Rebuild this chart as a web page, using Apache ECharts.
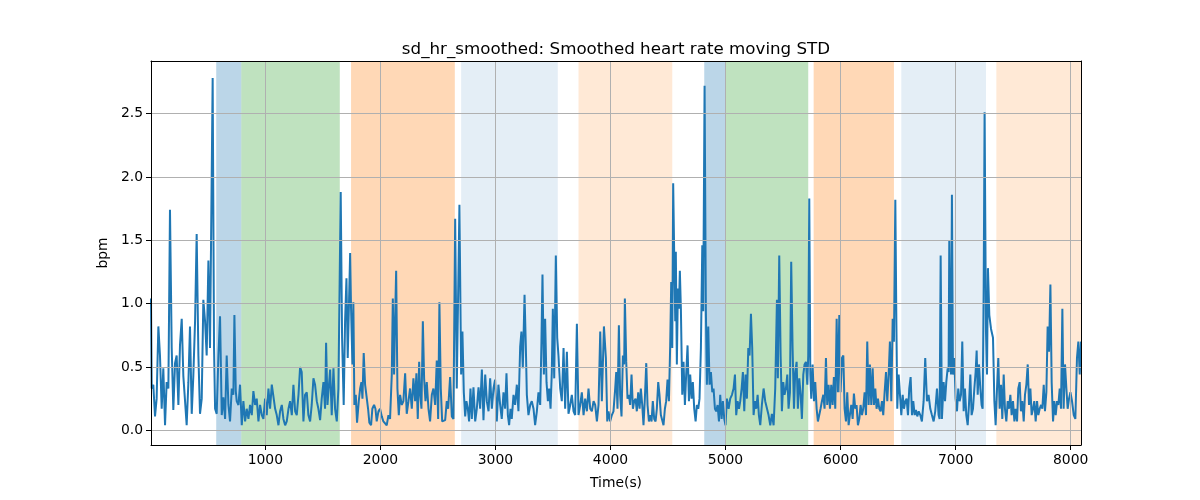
<!DOCTYPE html>
<html>
<head>
<meta charset="utf-8">
<script src="https://cdn.jsdelivr.net/npm/echarts@6/dist/echarts.min.js"></script>
<style>html,body{margin:0;padding:0;background:#fff;}#chart{width:1200px;height:500px;}</style>
</head>
<body>
<div id="chart"></div>
<script>
const titleText = 'sd_hr_smoothed: Smoothed heart rate moving STD';
const xAxisName = 'Time(s)';
const yAxisName = 'bpm';
const xTicks = [1000, 2000, 3000, 4000, 5000, 6000, 7000, 8000];
const yTicks = [0, 0.5, 1.0, 1.5, 2.0, 2.5];
const yRange = [-0.116, 2.915];

// shaded phases: start, end (s), kind
const bandStarts = [573, 791, 1745, 2702, 3722, 4815, 5000, 5766, 6528, 7354];
const bandEnds   = [791, 1647, 2647, 3542, 4537, 5000, 5719, 6464, 7264, 8090];
const bandKinds  = ['A', 'B', 'C', 'D', 'E', 'A', 'B', 'C', 'D', 'E'];

// [time (s), sd (bpm)]
const sdHrSmoothed = [
[6,1.04],[12,0.33],[26,0.36],[41,0.11],[55,0.25],[70,0.82],[84,0.59],[99,0.17],[113,0.49],[128,0.04],
[142,0.38],[157,0.33],[171,1.74],[186,0.65],[200,0.16],[215,0.53],[229,0.59],[244,0.20],[258,0.67],[273,0.88],
[287,0.43],[302,0.23],[316,0.04],[331,0.38],[345,0.82],[360,0.13],[374,0.43],[389,0.86],[403,1.55],[418,0.59],
[432,0.13],[447,0.25],[461,1.03],[476,0.86],[490,0.59],[505,1.34],[519,0.65],[542,2.78],[554,0.65],[563,0.17],
[577,0.13],[592,0.59],[606,0.90],[621,0.12],[635,0.26],[650,0.09],[664,0.59],[679,0.20],[693,0.07],[708,0.33],
[722,0.28],[731,0.91],[743,0.31],[751,0.23],[766,0.20],[780,0.36],[795,0.04],[809,0.23],[824,0.07],[838,0.17],
[853,0.09],[867,0.20],[882,0.12],[896,0.31],[911,0.20],[925,0.25],[940,0.07],[954,0.20],[969,0.12],[983,0.09],
[998,0.25],[1012,0.12],[1027,0.33],[1041,0.17],[1056,0.36],[1070,0.36],[1085,0.17],[1099,0.12],[1114,0.04],[1128,0.15],
[1143,0.20],[1157,0.09],[1172,0.04],[1186,0.07],[1201,0.17],[1215,0.23],[1230,0.12],[1244,0.36],[1259,0.15],[1273,0.12],
[1288,0.28],
[1302,0.50],[1316,0.46],[1331,0.07],[1345,0.28],[1360,0.30],[1374,0.12],[1389,0.07],[1403,0.20],[1418,0.41],[1432,0.36],
[1447,0.23],[1461,0.17],[1476,0.08],[1490,0.25],[1505,0.38],[1519,0.17],[1528,0.69],[1540,0.20],[1548,0.30],[1563,0.48],
[1577,0.12],[1592,0.49],[1606,0.17],[1621,0.07],[1635,0.33],[1655,1.88],[1667,0.73],[1681,0.20],[1693,0.86],[1705,1.20],
[1716,0.57],[1728,1.04],[1737,1.40],[1745,0.96],[1757,0.52],[1765,1.01],[1774,0.20],[1786,0.28],[1797,0.06],[1812,0.23],
[1824,0.33],[1835,0.38],[1844,0.25],[1855,0.61],[1867,0.36],[1881,0.36],[1893,0.17],[1904,0.06],[1919,0.04],[1930,0.17],
[1945,0.20],[1957,0.17],[1968,0.07],[1983,0.15],[1997,0.17],[2012,0.11],[2026,0.07],[2041,0.08],[2055,0.04],[2070,0.12],
[2084,0.09],[2099,0.44],[2108,1.04],[2119,0.44],[2128,0.88],[2137,1.26],[2148,0.33],[2160,0.12],[2171,0.28],[2186,0.20],
[2200,0.23],[2215,0.45],[2229,0.13],[2244,0.23],[2258,0.33],[2273,0.17],[2287,0.41],[2302,0.23],[2313,0.45],[2325,0.09],
[2337,0.54],[2345,0.30],[2357,0.17],[2369,0.86],[2380,0.41],[2392,0.23],[2403,0.38],[2418,0.17],[2432,0.07],[2447,0.28],
[2461,0.33],[2476,0.20],[2490,0.55],[2502,0.09],[2513,1.01],[2525,0.33],[2537,0.07],[2548,0.07],[2563,0.08],[2577,0.23],
[2589,0.17],[2606,0.42],[2621,0.11],[2635,0.09],
[2650,1.67],[2664,0.33],[2687,1.78],[2702,0.44],[2713,0.78],[2725,0.30],[2737,0.11],[2748,0.23],[2760,0.17],[2771,0.07],
[2783,0.33],[2795,0.09],[2809,0.34],[2824,0.07],[2838,0.17],[2853,0.34],[2867,0.17],[2882,0.48],[2896,0.08],[2911,0.44],
[2925,0.23],[2940,0.15],[2954,0.41],[2969,0.17],[2983,0.33],[2997,0.40],[3012,0.07],[3026,0.36],[3041,0.20],[3055,0.09],
[3070,0.30],[3084,0.17],[3096,0.45],[3108,0.12],[3119,0.04],[3131,0.17],[3142,0.09],[3157,0.28],[3171,0.20],[3186,0.36],
[3200,0.15],[3215,0.66],[3226,0.78],[3238,0.49],[3253,1.07],[3264,0.67],[3273,0.28],[3287,0.12],[3302,0.20],[3316,0.23],
[3331,0.17],[3345,0.04],[3360,0.15],[3374,0.30],[3389,0.20],[3400,0.70],[3409,1.23],[3421,0.44],[3432,0.88],[3444,0.38],
[3456,0.23],[3467,0.33],[3479,0.17],[3490,0.46],[3499,0.96],[3511,0.41],[3525,1.38],[3537,0.73],[3548,0.59],[3563,0.33],
[3577,0.23],[3592,0.65],[3606,0.17],[3621,0.62],[3635,0.13],[3650,0.20],[3664,0.28],[3679,0.15],[3693,0.12],[3708,0.84],
[3722,0.12],[3737,0.20],[3751,0.30],[3766,0.12],[3780,0.25],[3795,0.15],[3809,0.33],[3824,0.17],[3838,0.15],[3853,0.23],
[3867,0.20],[3882,0.07],[3896,0.20],[3911,0.78],[3925,0.23],[3943,0.82],[3960,0.57],[3972,0.07],[3983,0.15],
[3997,0.07],[4012,0.12],[4026,0.15],[4041,0.33],[4050,0.46],[4061,0.17],[4073,0.83],[4084,0.28],[4096,0.11],[4108,0.59],
[4119,0.52],[4125,1.04],[4137,0.54],[4148,0.25],[4160,0.28],[4171,0.20],[4183,0.44],[4195,0.17],[4206,0.23],[4218,0.25],
[4229,0.15],[4241,0.30],[4253,0.17],[4264,0.33],[4276,0.20],[4287,0.04],[4299,0.25],[4311,0.53],[4322,0.20],[4334,0.07],
[4345,0.12],[4357,0.07],[4368,0.23],[4380,0.09],[4392,0.07],[4403,0.17],[4415,0.38],[4426,0.28],[4438,0.12],[4450,0.12],
[4461,0.04],[4473,0.17],[4484,0.23],[4496,0.40],[4508,0.23],[4519,0.67],[4528,1.17],[4537,0.65],[4545,1.95],[4554,1.38],
[4563,0.86],[4568,1.41],[4577,0.52],[4586,1.12],[4595,0.96],[4603,1.26],[4612,0.96],[4624,0.28],[4635,0.54],[4647,0.20],
[4658,0.44],[4670,0.67],[4682,0.23],[4693,0.44],[4705,0.25],[4716,0.38],[4728,0.17],[4740,0.07],[4751,0.20],[4763,0.17],
[4774,0.25],[4786,0.65],[4798,1.46],[4806,0.94],[4818,2.72],[4829,0.96],[4838,0.36],[4850,0.82],[4861,0.36],[4873,0.46],
[4885,0.30],[4896,0.33],[4908,0.17],[4919,0.15],[4931,0.20],[4943,0.07],[4954,0.28],[4966,0.09],[4977,0.23],[4989,0.09],
[5000,0.04],[5012,0.25],[5027,0.17],[5041,0.25],[5056,0.28],[5070,0.33],[5082,0.44],[5093,0.12],[5105,0.23],[5117,0.17],
[5128,0.23],[5140,0.33],[5151,0.46],[5163,0.15],[5174,0.44],[5186,0.25],[5198,0.65],[5209,0.59],[5221,0.92],[5232,0.65],
[5244,0.12],[5256,0.23],[5267,0.17],[5279,0.28],[5290,0.12],[5302,0.04],[5316,0.20],[5331,0.33],
[5345,0.23],[5360,0.23],[5374,0.12],[5389,0.04],[5403,0.13],[5418,0.04],[5432,0.33],[5447,1.03],[5455,0.41],[5467,1.38],
[5479,0.59],[5490,0.15],[5502,0.38],[5513,0.28],[5525,0.33],[5537,0.44],[5548,0.17],[5560,0.30],[5571,1.33],[5583,0.65],
[5595,0.17],[5606,0.46],[5618,0.54],[5629,0.17],[5641,0.41],[5653,0.28],[5664,0.09],[5676,0.44],[5687,0.52],[5699,0.54],
[5711,0.36],[5719,0.59],[5728,1.83],[5737,0.44],[5745,0.25],[5757,0.52],[5769,0.23],[5780,0.38],[5792,0.17],[5803,0.07],
[5815,0.07],[5826,0.17],[5838,0.23],[5850,0.28],[5861,0.17],[5873,0.57],[5884,0.20],[5896,0.36],[5908,0.17],[5919,0.36],
[5931,0.20],[5942,0.42],[5954,0.17],[5966,0.88],[5977,0.30],[5989,0.91],[6000,0.30],[6012,0.57],[6024,0.59],[6035,0.17],
[6047,0.07],[6058,0.30],[6070,0.04],[6081,0.12],[6093,0.20],[6105,0.09],[6116,0.29],[6128,0.17],[6139,0.20],[6151,0.04],
[6163,0.09],[6174,0.20],[6186,0.12],[6197,0.17],[6209,0.30],[6221,0.12],[6232,0.70],[6244,0.20],[6255,0.52],[6267,0.20],
[6279,0.49],[6290,0.20],[6302,0.33],[6313,0.17],[6325,0.25],[6337,0.17],[6348,0.15],[6360,0.23],[6371,0.12],[6383,0.30],
[6395,0.46],[6406,0.23],[6418,0.44],[6429,0.70],[6441,0.23],[6453,0.88],[6464,0.70],[6476,1.82],[6485,0.86],[6493,0.17],
[6505,0.44],[6516,0.44],[6528,0.12],[6540,0.28],[6551,0.17],[6563,0.23],[6574,0.25],[6586,0.12],[6597,0.33],[6609,0.42],
[6621,0.12],[6632,0.23],[6644,0.12],[6655,0.16],[6667,0.11],[6679,0.15],
[6693,0.12],[6707,0.07],[6722,0.23],[6736,0.57],[6751,0.23],[6765,0.28],[6780,0.17],[6794,0.12],[6809,0.07],[6823,0.15],
[6838,0.33],[6852,0.12],[6861,0.09],[6870,1.38],[6881,0.09],[6896,0.38],[6908,0.23],[6919,0.38],[6931,0.49],[6939,0.46],
[6945,1.50],[6954,0.59],[6960,0.44],[6968,1.86],[6977,0.44],[6989,0.57],[7000,0.25],[7012,0.15],[7023,0.33],[7035,0.23],
[7047,0.28],[7058,0.70],[7070,0.15],[7081,0.33],[7093,0.12],[7105,0.04],[7116,0.20],[7128,0.44],[7139,0.12],[7151,0.17],
[7163,0.33],[7174,0.46],[7183,0.63],[7192,0.28],[7203,0.52],[7215,0.33],[7226,0.20],[7235,0.17],[7244,1.12],[7252,2.51],
[7264,0.78],[7273,0.44],[7281,1.28],[7293,0.91],[7308,0.80],[7325,0.73],[7337,0.23],[7348,0.04],[7360,0.33],[7371,0.57],
[7383,0.17],[7395,0.36],[7406,0.09],[7418,0.44],[7429,0.17],[7441,0.07],[7453,0.23],[7464,0.17],[7476,0.28],[7487,0.12],
[7499,0.23],[7511,0.07],[7522,0.17],[7534,0.07],[7545,0.33],[7557,0.38],[7568,0.15],[7580,0.23],[7592,0.07],[7603,0.28],
[7615,0.36],[7627,0.52],[7638,0.20],[7650,0.33],[7661,0.12],[7673,0.17],[7684,0.23],[7696,0.07],[7708,0.23],[7719,0.12],
[7731,0.17],[7743,0.20],[7754,0.17],[7766,0.36],[7777,0.15],[7789,0.30],[7800,0.82],[7812,0.62],[7824,1.15],[7835,0.38],
[7847,0.07],[7858,0.23],[7870,0.12],[7882,0.23],[7893,0.20],[7905,0.33],[7916,0.17],[7928,0.96],[7939,0.17],[7951,0.52],
[7963,0.33],[7974,0.17],[7986,0.25],[7998,0.30],[8012,0.23],[8027,0.12],[8041,0.09],[8055,0.57],[8067,0.70],[8079,0.44],
[8090,0.70]
];

const kindColors = {
  A: 'rgba(31,119,180,0.3)',
  B: 'rgba(44,160,44,0.3)',
  C: 'rgba(255,127,14,0.3)',
  D: 'rgba(31,119,180,0.12)',
  E: 'rgba(255,127,14,0.17)'
};

const FONT = '"DejaVu Sans", sans-serif';
const chart = echarts.init(document.getElementById('chart'), null, {renderer: 'canvas'});

const bandData = bandStarts.map((s, i) => [
  {xAxis: s, itemStyle: {color: kindColors[bandKinds[i]], borderWidth: 0}},
  {xAxis: bandEnds[i]}
]);
const gridLineData = yTicks.map(v => ({yAxis: v})).concat(xTicks.map(v => ({xAxis: v})));

const xMin = sdHrSmoothed[0][0];
const xMax = sdHrSmoothed[sdHrSmoothed.length - 1][0];
const spine = {show: true, onZero: false, lineStyle: {color: '#000', width: 1}};

const option = {
  animation: false,
  backgroundColor: '#fff',
  title: {
    text: titleText,
    left: 611,
    textAlign: 'center',
    top: 36,
    textStyle: {fontFamily: FONT, fontSize: 16.7, fontWeight: 'normal', color: '#000'}
  },
  grid: {left: 151, right: 119, top: 61, bottom: 55, show: false},
  xAxis: [{
    type: 'value', position: 'bottom', z: 10,
    min: xMin, max: xMax,
    name: xAxisName,
    nameLocation: 'middle',
    nameGap: 31,
    nameTextStyle: {fontFamily: FONT, fontSize: 13.9, color: '#000'},
    axisLine: spine,
    axisTick: {show: true, length: 5, lineStyle: {color: '#000'}, customValues: xTicks},
    axisLabel: {fontFamily: FONT, fontSize: 13.9, color: '#000', margin: 8, customValues: xTicks, formatter: v => String(v)},
    splitLine: {show: false}
  }, {
    type: 'value', position: 'top', z: 10,
    min: xMin, max: xMax,
    axisLine: spine, axisTick: {show: false}, axisLabel: {show: false}, splitLine: {show: false}
  }],
  yAxis: [{
    type: 'value', position: 'left', z: 10,
    min: yRange[0], max: yRange[1],
    name: yAxisName,
    nameLocation: 'middle',
    nameGap: 41,
    nameTextStyle: {fontFamily: FONT, fontSize: 13.9, color: '#000'},
    axisLine: spine,
    axisTick: {show: true, length: 5, lineStyle: {color: '#000'}, customValues: yTicks},
    axisLabel: {fontFamily: FONT, fontSize: 13.9, color: '#000', margin: 8, customValues: yTicks, formatter: v => v.toFixed(1)},
    splitLine: {show: false}
  }, {
    type: 'value', position: 'right', z: 10,
    min: yRange[0], max: yRange[1],
    axisLine: spine, axisTick: {show: false}, axisLabel: {show: false}, splitLine: {show: false}
  }],
  series: [
    {
      type: 'line', z: 1, data: [], silent: true,
      markArea: {silent: true, data: bandData}
    },
    {
      type: 'line', z: 2, data: [], silent: true,
      markLine: {silent: true, symbol: 'none', label: {show: false},
        lineStyle: {color: '#b0b0b0', width: 1, type: 'solid'}, data: gridLineData}
    },
    {
      type: 'line', z: 3, name: 'sd_hr_smoothed',
      data: sdHrSmoothed,
      showSymbol: false, symbol: 'none',
      lineStyle: {color: '#1f77b4', width: 2},
      itemStyle: {color: '#1f77b4'}
    }
  ]
};
chart.setOption(option);
</script>
</body>
</html>
